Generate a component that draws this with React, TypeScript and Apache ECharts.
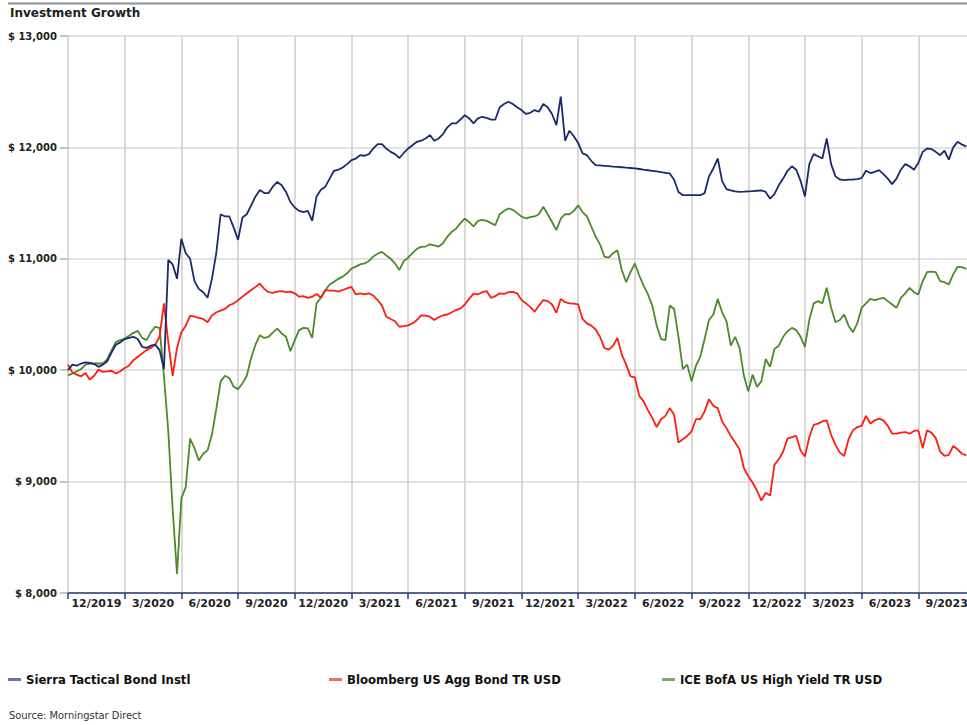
import React, { useEffect, useRef } from "react";
import * as echarts from "echarts";

// Quarter labels (each band = 13 weeks)
const QUARTERS = [
  "12/2019", "3/2020", "6/2020", "9/2020", "12/2020", "3/2021", "6/2021", "9/2021",
  "12/2021", "3/2022", "6/2022", "9/2022", "12/2022", "3/2023", "6/2023", "9/2023",
];
const WEEKS_PER_QUARTER = 13;

const SERIES_NAMES = [
  "Sierra Tactical Bond Instl",
  "Bloomberg US Agg Bond TR USD",
  "ICE BofA US High Yield TR USD",
];

// Weekly growth of $10,000
const SIERRA = [
  10000, 10050, 10040, 10060, 10070, 10065, 10055, 10030, 10050, 10080,
  10160, 10230, 10250, 10280, 10290, 10300, 10280, 10210, 10200, 10220,
  10230, 10180, 10010, 10990, 10950, 10820, 11180, 11050, 11000, 10800,
  10730, 10700, 10650, 10820, 11050, 11400, 11380, 11380, 11280, 11170,
  11370, 11400, 11480, 11560, 11617, 11590, 11590, 11650, 11690, 11660,
  11600, 11510, 11460, 11430, 11420, 11430, 11340, 11560, 11620, 11646,
  11720, 11790, 11800, 11820, 11850, 11886, 11900, 11930, 11925, 11940,
  11990, 12030, 12030, 11990, 11960, 11940, 11905, 11950, 11990, 12020,
  12050, 12060, 12080, 12110, 12060, 12080, 12120, 12180, 12216, 12216,
  12250, 12290, 12260, 12215, 12260, 12275, 12265, 12250, 12250, 12360,
  12390, 12410, 12390, 12360, 12335, 12300, 12310, 12335, 12320, 12390,
  12360, 12300, 12200, 12455, 12060, 12150, 12100, 12040, 11947, 11930,
  11880, 11841, 11838, 11835, 11832, 11828, 11825, 11822, 11818, 11815,
  11811, 11806, 11800, 11795, 11790, 11784, 11778, 11772, 11766, 11710,
  11600, 11571, 11571, 11571, 11571, 11571, 11590, 11740, 11811, 11900,
  11700, 11625, 11615, 11605, 11601, 11603, 11606, 11608, 11611, 11614,
  11600, 11540, 11580, 11660, 11720, 11790, 11830, 11800, 11700, 11560,
  11850, 11940, 11920, 11900, 12080, 11850, 11740, 11712, 11706, 11710,
  11712, 11716, 11725, 11790, 11770, 11780, 11796, 11760, 11720, 11670,
  11720, 11800, 11850, 11830, 11800, 11860, 11960, 11990, 11985, 11960,
  11930, 11970, 11890, 12000, 12050, 12025, 12010,
];

const BLOOMBERG = [
  10050, 9980, 9960, 9945, 9975, 9915, 9950, 10005, 9985, 9990,
  9995, 9970, 9990, 10020, 10040, 10090, 10120, 10150, 10180, 10200,
  10230, 10300, 10600, 10250, 9950, 10200, 10340, 10400, 10490, 10480,
  10470, 10460, 10430, 10490, 10520, 10535, 10550, 10583, 10600, 10628,
  10660, 10690, 10720, 10748, 10778, 10730, 10700, 10695, 10705, 10710,
  10700, 10705, 10690, 10660, 10665, 10650, 10660, 10685, 10650, 10718,
  10715, 10715, 10705, 10720, 10735, 10748, 10680, 10690, 10680, 10690,
  10670, 10630, 10580, 10480, 10460, 10440, 10390, 10395, 10403, 10420,
  10450, 10493, 10490, 10480, 10450, 10475, 10493, 10500, 10520, 10540,
  10555, 10590, 10640, 10688, 10680, 10700, 10710, 10650, 10665, 10690,
  10685, 10700, 10703, 10690, 10630, 10600, 10568, 10525, 10580, 10630,
  10620, 10590, 10515, 10640, 10610, 10600, 10598, 10590, 10460, 10420,
  10400, 10365, 10300, 10200, 10185, 10220, 10290, 10140, 10050, 9945,
  9935, 9770, 9720, 9640, 9570, 9490, 9560, 9590, 9660, 9600,
  9350, 9380, 9410, 9450, 9560, 9560, 9630, 9740, 9680, 9660,
  9540, 9480, 9410, 9350, 9290, 9120, 9050, 8990, 8920, 8830,
  8900, 8875, 9150, 9200, 9270, 9386, 9400, 9410, 9280, 9225,
  9400, 9510, 9520, 9540, 9550, 9420, 9330, 9260, 9230, 9380,
  9460, 9490, 9500, 9590, 9520, 9550, 9565, 9550, 9500, 9430,
  9430, 9440, 9445, 9430, 9455, 9460, 9300, 9460, 9440, 9390,
  9270, 9230, 9240, 9320, 9290, 9250, 9235,
];

const ICE = [
  9954, 9970, 9990, 10010, 10050, 10060, 10060, 10060, 10060, 10100,
  10180, 10254, 10270, 10284, 10310, 10335, 10353, 10290, 10270, 10340,
  10390, 10380, 9950, 9450, 8750, 8172, 8850, 8950, 9386, 9300,
  9190, 9250, 9280, 9420, 9650, 9900, 9950, 9930, 9850, 9830,
  9880, 9950, 10110, 10230, 10314, 10290, 10300, 10340, 10373, 10330,
  10300, 10170, 10270, 10360, 10380, 10375, 10290, 10600, 10650, 10718,
  10770, 10793, 10820, 10840, 10870, 10912, 10930, 10950, 10958, 10980,
  11020, 11045, 11062, 11030, 11000, 10958, 10900, 10980, 11010, 11050,
  11090, 11107, 11110, 11130, 11120, 11110, 11140, 11200, 11242, 11270,
  11320, 11360, 11330, 11290, 11340, 11350, 11340, 11320, 11302, 11400,
  11430, 11452, 11440, 11410, 11380, 11362, 11375, 11380, 11400, 11467,
  11400, 11330, 11257, 11360, 11400, 11400, 11430, 11480, 11420, 11380,
  11290, 11200, 11130, 11020, 11010, 11050, 11077, 10900, 10790, 10880,
  10958, 10850, 10760, 10680, 10580, 10400, 10280, 10270, 10580, 10550,
  10300, 10010, 10050, 9900, 10040, 10120, 10280, 10450, 10500, 10640,
  10520, 10440, 10220, 10300, 10200, 9950, 9810, 9960, 9850, 9900,
  10100, 10030, 10190, 10220, 10300, 10350, 10380, 10360, 10300, 10210,
  10450, 10600, 10620, 10600, 10740, 10560, 10430, 10450, 10500, 10400,
  10340, 10420, 10560, 10600, 10640, 10630, 10640, 10650, 10620, 10590,
  10560, 10650, 10690, 10740, 10700, 10680, 10800, 10880, 10885, 10880,
  10800, 10790, 10770, 10860, 10928, 10925, 10910,
];

const Y_MIN = 8000;
const Y_MAX = 13000;
const Y_STEP = 1000;

const LINE_COLORS = ["#1b2a6b", "#ff1e0e", "#4c8a2b"];
const LEGEND_COLORS = ["#6b74ad", "#f36c64", "#7eaa62"];

export default function App() {
  const ref = useRef<HTMLDivElement>(null);

  useEffect(() => {
    if (!ref.current) return;
    const chart = echarts.init(ref.current, undefined, { renderer: "svg" });
    const toPairs = (arr: number[]) => arr.map((v, i) => [i, v]);
    const legendText = {
      fontFamily: '"DejaVu Sans Condensed", "DejaVu Sans", sans-serif',
      fontWeight: "bold" as const,
      fontSize: 13,
      color: "#111",
    };
    const legendLefts = [8, 329, 662];

    chart.setOption({
      animation: false,
      backgroundColor: "#fff",
      title: {
        text: "Investment Growth",
        left: 10,
        top: 7,
        padding: 0,
        textStyle: {
          fontFamily: '"DejaVu Sans", sans-serif',
          fontWeight: "bold",
          fontSize: 12,
          color: "#222",
        },
      },
      legend: SERIES_NAMES.map((name, i) => ({
        data: [{ name, itemStyle: { color: LEGEND_COLORS[i] } }],
        left: legendLefts[i],
        top: 673,
        padding: 0,
        icon: "rect",
        itemWidth: 13,
        itemHeight: 3,
        selectedMode: false,
        textStyle: legendText,
      })),
      grid: { left: 68, top: 36, right: 25, bottom: 132, containLabel: false },
      xAxis: [
        {
          type: "value",
          min: 0,
          max: QUARTERS.length * WEEKS_PER_QUARTER,
          interval: WEEKS_PER_QUARTER,
          show: false,
        },
        {
          type: "category",
          data: QUARTERS,
          position: "bottom",
          boundaryGap: true,
          axisLine: { show: true, lineStyle: { color: "#2b3a7c", width: 1.5 } },
          axisTick: { show: true, interval: 0, length: 6, lineStyle: { color: "#2b3a7c", width: 1.5 } },
          axisLabel: {
            interval: 0,
            margin: 5,
            fontFamily: '"DejaVu Sans", sans-serif',
            fontWeight: "bold",
            fontSize: 11,
            color: "#222",
          },
          splitLine: { show: true, interval: 0, lineStyle: { color: "#cdcdcd", width: 1.5 } },
        },
      ],
      yAxis: {
        type: "value",
        min: Y_MIN,
        max: Y_MAX,
        interval: Y_STEP,
        axisLine: { show: false },
        axisTick: { show: true, length: 8, lineStyle: { color: "#b0b0b0", width: 1.5 } },
        axisLabel: {
          margin: 11,
          formatter: (v: number) => "$ " + v.toLocaleString("en-US"),
          fontFamily: '"DejaVu Sans", sans-serif',
          fontWeight: "bold",
          fontSize: 10,
          color: "#222",
        },
        splitLine: { show: true, lineStyle: { color: "#d9d9d9", width: 1.5 } },
      },
      graphic: [
        {
          type: "line",
          shape: { x1: 8, y1: 3.5, x2: 1000, y2: 3.5 },
          style: { stroke: "#8f8f8f", lineWidth: 2 },
        },
        {
          type: "text",
          left: 9,
          top: 710,
          style: {
            text: "Source: Morningstar Direct",
            font: '11px "DejaVu Sans Condensed", "DejaVu Sans", sans-serif',
            fill: "#333",
          },
        },
      ],
      series: [
        {
          name: SERIES_NAMES[2],
          type: "line",
          xAxisIndex: 0,
          yAxisIndex: 0,
          data: toPairs(ICE),
          showSymbol: false,
          symbol: "none",
          lineStyle: { color: LINE_COLORS[2], width: 1.8 },
          itemStyle: { color: LINE_COLORS[2] },
        },
        {
          name: SERIES_NAMES[1],
          type: "line",
          xAxisIndex: 0,
          yAxisIndex: 0,
          data: toPairs(BLOOMBERG),
          showSymbol: false,
          symbol: "none",
          lineStyle: { color: LINE_COLORS[1], width: 1.8 },
          itemStyle: { color: LINE_COLORS[1] },
        },
        {
          name: SERIES_NAMES[0],
          type: "line",
          xAxisIndex: 0,
          yAxisIndex: 0,
          data: toPairs(SIERRA),
          showSymbol: false,
          symbol: "none",
          lineStyle: { color: LINE_COLORS[0], width: 1.8 },
          itemStyle: { color: LINE_COLORS[0] },
        },
      ],
    });
    return () => chart.dispose();
  }, []);

  return (
    <div
      style={{
        position: "absolute",
        left: 0,
        top: 0,
        width: 967,
        height: 725,
        overflow: "hidden",
        background: "#fff",
      }}
    >
      <div ref={ref} style={{ width: 1000, height: 725 }} />
    </div>
  );
}
